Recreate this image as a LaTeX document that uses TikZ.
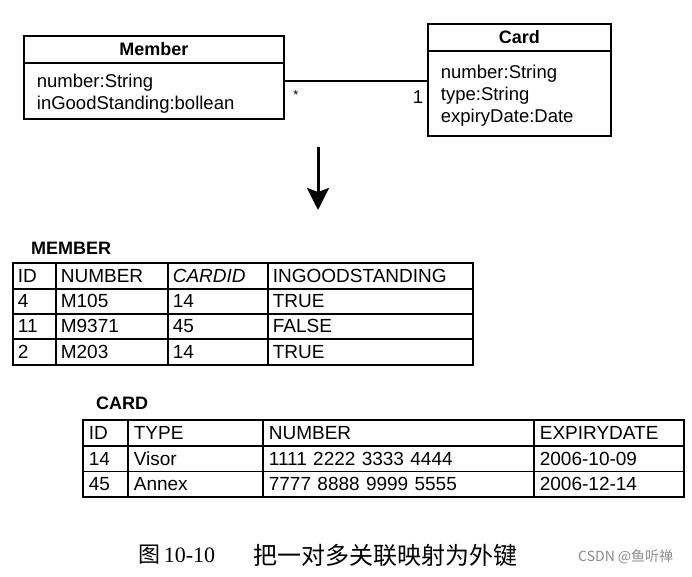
\documentclass[tikz,border=0pt]{standalone}
\usepackage{fontspec}
\setmainfont{Liberation Sans}
\newfontfamily\cjkfont{Noto Sans CJK SC}
\newfontfamily\numserif{Liberation Serif}
\usetikzlibrary{arrows.meta}
\newcommand\tabcell[5]{\node[cell,text width=#3,minimum height=#4] (#1) at (#2) {#5};}
\begin{document}
\begin{tikzpicture}[x=1pt,y=-1pt,
  every node/.style={font=\fontsize{18.5}{22}\selectfont},
  frame/.style={draw, line width=1.8pt, anchor=north west, inner ysep=0pt},
  head/.style={frame, font=\fontsize{18}{22}\selectfont\bfseries},
  body/.style={frame, align=left, inner xsep=13pt},
  cell/.style={draw, line width=1.7pt, anchor=north west, inner xsep=5pt, inner ysep=0pt, align=left, font=\fontsize{19}{22}\selectfont},
  tabtitle/.style={anchor=west, inner sep=0pt, font=\fontsize{18}{22}\selectfont\bfseries},
  assoc/.style={line width=1.8pt},
  mapping/.style={line width=3pt, -{Stealth[length=22pt,width=22pt,inset=4pt]}},
  mult/.style={inner sep=0pt}
]
\useasboundingbox (0,0) rectangle (692,577);

% ---------- UML classes ----------
\node[head, minimum width=260pt, minimum height=27pt] (memberhead) at (23,35) {Member};
\node[body, text width=234pt, minimum width=260pt, minimum height=56pt] (memberbody) at (23,62)
  {\rule{0pt}{20pt}number:String\\inGoodStanding:bollean};

\node[head, minimum width=183pt, minimum height=27pt] (cardhead) at (427,23) {Card};
\node[body, text width=157pt, minimum width=183pt, minimum height=85pt, inner xsep=13pt] (cardbody) at (427,50)
  {\rule{0pt}{18pt}number:String\\type:String\\expiryDate:Date};

\draw[assoc] ([yshift=10pt]memberbody.east) coordinate (a1) -- (a1 -| cardbody.west) coordinate (a2);
\node[mult, font=\fontsize{13}{14}\selectfont] (mstar) at (296,95) {*};
\node[mult] (mone) at (418,97) {1};

% ---------- mapping arrow ----------
\coordinate (arrowtop) at (318,147);
\coordinate (arrowtip) at (318,210);
\draw[mapping] (arrowtop) -- (arrowtip);

% ---------- MEMBER table ----------
\node[tabtitle] (membertitle) at (31,248) {MEMBER};

\tabcell{m0a}{12,262}{33pt}{26pt}{ID}
\tabcell{m0b}{55,262}{102pt}{26pt}{NUMBER}
\tabcell{m0c}{167,262}{90pt}{26pt}{\itshape CARDID}
\tabcell{m0d}{267,262}{195pt}{26pt}{INGOODSTANDING}

\tabcell{m1a}{12,288}{33pt}{25pt}{4}
\tabcell{m1b}{55,288}{102pt}{25pt}{M105}
\tabcell{m1c}{167,288}{90pt}{25pt}{14}
\tabcell{m1d}{267,288}{195pt}{25pt}{TRUE}

\tabcell{m2a}{12,313}{33pt}{25pt}{11}
\tabcell{m2b}{55,313}{102pt}{25pt}{M9371}
\tabcell{m2c}{167,313}{90pt}{25pt}{45}
\tabcell{m2d}{267,313}{195pt}{25pt}{FALSE}

\tabcell{m3a}{12,338}{33pt}{26pt}{2}
\tabcell{m3b}{55,338}{102pt}{26pt}{M203}
\tabcell{m3c}{167,338}{90pt}{26pt}{14}
\tabcell{m3d}{267,338}{195pt}{26pt}{TRUE}

% ---------- CARD table ----------
\node[tabtitle] (cardtitle) at (96,403) {CARD};

\tikzset{cell/.append style={inner xsep=6pt}}
\tabcell{c0a}{82,419}{33pt}{26pt}{ID}
\tabcell{c0b}{127,419}{123pt}{26pt}{TYPE}
\tabcell{c0c}{262,419}{259pt}{26pt}{NUMBER}
\tabcell{c0d}{533,419}{138pt}{26pt}{EXPIRYDATE}

\tabcell{c1a}{82,445}{33pt}{25.5pt}{14}
\tabcell{c1b}{127,445}{123pt}{25.5pt}{Visor}
\tabcell{c1c}{262,445}{259pt}{25.5pt}{1111 2222 3333 4444}
\tabcell{c1d}{533,445}{138pt}{25.5pt}{2006-10-09}

\tabcell{c2a}{82,470.5}{33pt}{25.5pt}{45}
\tabcell{c2b}{127,470.5}{123pt}{25.5pt}{Annex}
\tabcell{c2c}{262,470.5}{259pt}{25.5pt}{7777 8888 9999 5555}
\tabcell{c2d}{533,470.5}{138pt}{25.5pt}{2006-12-14}

% ---------- caption ----------
\node[anchor=west, inner sep=0pt, font=\fontsize{22}{24}\selectfont] (capnum) at (138,555)
  {\cjkfont 图\,\numserif 10-10};
\node[anchor=west, inner sep=0pt, font=\fontsize{24}{26}\selectfont] (captext) at (253,555)
  {\cjkfont 把一对多关联映射为外键};
\node[anchor=west, inner sep=0pt, text=black!45, font=\fontsize{14}{16}\selectfont] (watermark) at (578,557)
  {\cjkfont CSDN @鱼听禅};
\end{tikzpicture}
\end{document}
